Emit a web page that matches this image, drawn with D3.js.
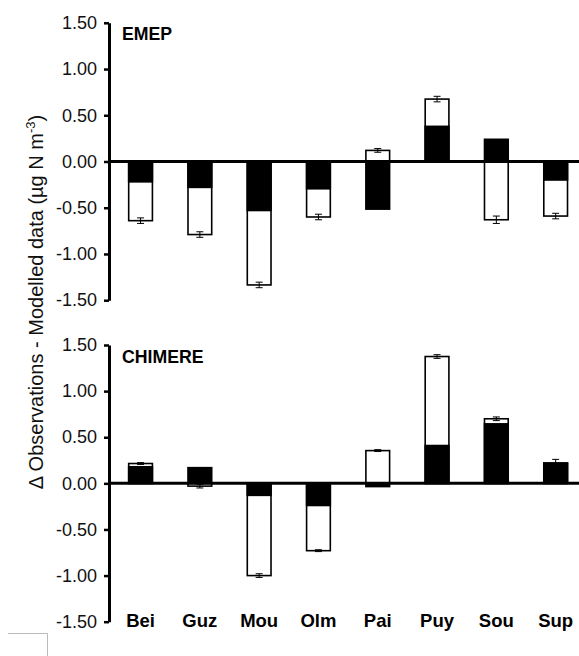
<!DOCTYPE html>
<html><head><meta charset="utf-8">
<script src="https://cdn.jsdelivr.net/npm/d3@7"></script>
<style>
html,body{margin:0;padding:0;background:#fff;}
svg{display:block;font-family:Arial,"Liberation Sans",sans-serif;}
</style></head>
<body>
<svg id="chart" width="579" height="656"></svg>
<script>
const sites = ["Bei","Guz","Mou","Olm","Pai","Puy","Sou","Sup"];
const panels = ["EMEP","CHIMERE"];
// white (open) bars with error bars, black (filled) bars
const emepOpen   = [-0.64,-0.79,-1.335,-0.60, 0.12, 0.675,-0.63,-0.59];
const emepOpenErr= [ 0.03, 0.03, 0.03, 0.03, 0.02, 0.03, 0.04, 0.03];
const emepFilled = [-0.22,-0.28,-0.53,-0.295,-0.515, 0.38, 0.24,-0.20];
const chimOpen   = [ 0.215,-0.03,-1.00,-0.73, 0.355, 1.375, 0.70, 0.22];
const chimOpenErr= [ 0.01, 0.02, 0.02, 0.01, 0.01, 0.02, 0.02, 0.04];
const chimFilled = [ 0.18, 0.17,-0.13,-0.24,-0.035, 0.41, 0.645, 0.22];
const yTicks = [1.5,1.0,0.5,0.0,-0.5,-1.0,-1.5];
const yLabel = "\u0394 Observations - Modelled data (\u00b5g N m";

const svg = d3.select("#chart");
const x = d3.scaleBand().domain(sites).range([110.9,585.3]).paddingInner(0.6).paddingOuter(0.3);
const axisX = 109;

const panelDefs = [
  {name: panels[0], open: emepOpen, err: emepOpenErr, filled: emepFilled, range:[300.2,22.8]},
  {name: panels[1], open: chimOpen, err: chimOpenErr, filled: chimFilled, range:[621.7,345]}
];

panelDefs.forEach((p,pi) => {
  const y = d3.scaleLinear().domain([-1.5,1.5]).range(p.range);
  const g = svg.append("g");
  const data = sites.map((s,i)=>({s, o:p.open[i], e:p.err[i], f:p.filled[i]}));
  // open bars
  g.selectAll("rect.open").data(data).join("rect")
    .attr("x", d=>x(d.s)).attr("width", x.bandwidth())
    .attr("y", d=>Math.min(y(d.o),y(0))).attr("height", d=>Math.abs(y(d.o)-y(0)))
    .attr("fill","#fff").attr("stroke","#000").attr("stroke-width",1.6);
  // error bars
  const eb = g.selectAll("g.err").data(data).join("g")
    .attr("stroke","#000").attr("stroke-width",1);
  eb.append("line").attr("x1",d=>x(d.s)+x.bandwidth()/2).attr("x2",d=>x(d.s)+x.bandwidth()/2)
    .attr("y1",d=>y(d.o-d.e)).attr("y2",d=>y(d.o+d.e));
  eb.append("line").attr("x1",d=>x(d.s)+x.bandwidth()/2-3.5).attr("x2",d=>x(d.s)+x.bandwidth()/2+3.5)
    .attr("y1",d=>y(d.o-d.e)).attr("y2",d=>y(d.o-d.e));
  eb.append("line").attr("x1",d=>x(d.s)+x.bandwidth()/2-3.5).attr("x2",d=>x(d.s)+x.bandwidth()/2+3.5)
    .attr("y1",d=>y(d.o+d.e)).attr("y2",d=>y(d.o+d.e));
  // filled bars
  g.selectAll("rect.filled").data(data).join("rect")
    .attr("x", d=>x(d.s)).attr("width", x.bandwidth())
    .attr("y", d=>Math.min(y(d.f),y(0))).attr("height", d=>Math.abs(y(d.f)-y(0)))
    .attr("fill","#000").attr("stroke","#000").attr("stroke-width",1.6);
  // zero line
  g.append("line").attr("x1",axisX).attr("x2",579).attr("y1",y(0)).attr("y2",y(0))
    .attr("stroke","#000").attr("stroke-width",3);
  // y axis
  const ax = g.append("g").attr("transform",`translate(${axisX},0)`)
    .call(d3.axisLeft(y).tickValues(yTicks).tickFormat(d3.format(".2f")).tickSize(5).tickSizeOuter(0).tickPadding(7));
  ax.select(".domain").attr("stroke-width",3);
  ax.selectAll(".tick line").attr("stroke-width",2.5);
  ax.selectAll(".tick text").attr("font-size",18).attr("fill","#111")
    .attr("font-family","Arial, 'Liberation Sans', sans-serif").text(d=>d3.format(".2f")(d).replace("\u2212","-"));
  // panel title
  g.append("text").attr("x",122).attr("y",p.range[1]+17.5).attr("font-size",17.7).attr("font-weight","bold")
    .text(p.name);
  if (pi===1) {
    g.selectAll("text.cat").data(sites).join("text")
      .attr("x", d=>x(d)+x.bandwidth()/2).attr("y", 627).attr("text-anchor","middle")
      .attr("font-size",18.5).attr("font-weight","bold").text(d=>d);
  }
});

// y label
const lab = svg.append("text").attr("transform","translate(43,302) rotate(-90)")
  .attr("text-anchor","middle").attr("font-size",20).attr("fill","#111");
lab.append("tspan").text(yLabel);
lab.append("tspan").attr("font-size",13).attr("dy",-8).text("-3");
lab.append("tspan").attr("dy",8).text(")");

// small box artifact bottom-left
svg.append("path").attr("d","M8,633.5H47.5V656").attr("fill","none").attr("stroke","#bbb").attr("stroke-width",1);
</script>
</body></html>
